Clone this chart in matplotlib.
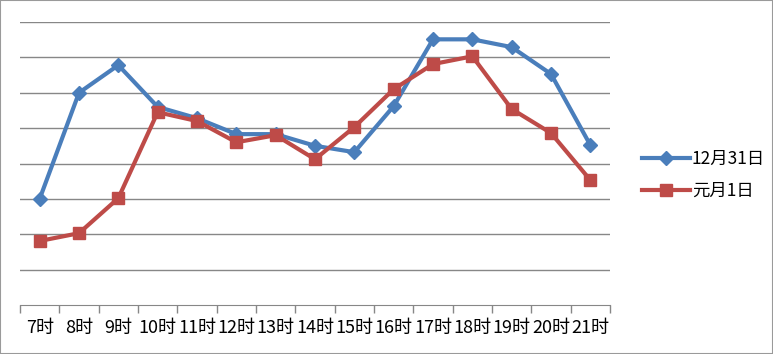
import matplotlib.pyplot as plt
from matplotlib.patches import Rectangle

plt.rcParams['font.family'] = ['Noto Sans CJK SC', 'DejaVu Sans']

hours = ['7时', '8时', '9时', '10时', '11时', '12时', '13时', '14时',
         '15时', '16时', '17时', '18时', '19时', '20时', '21时']
dec31 = [3.0, 6.0, 6.78, 5.6, 5.28, 4.83, 4.83, 4.5, 4.32, 5.62, 7.51, 7.51, 7.29, 6.53, 4.52]
jan1 = [1.81, 2.03, 3.02, 5.45, 5.2, 4.6, 4.8, 4.12, 5.03, 6.1, 6.81, 7.03, 5.54, 4.86, 3.53]

fig = plt.figure(figsize=(7.73, 3.54), dpi=100)
ax = fig.add_axes([20 / 773, 1 - 305 / 354, 590 / 773, 283 / 354])

x = list(range(len(hours)))
ax.plot(x, dec31, color='#4A7EBB', lw=3, marker='D', ms=7, label='12月31日', zorder=3)
ax.plot(x, jan1, color='#BE4B48', lw=3, marker='s', ms=9, label='元月1日', zorder=4)

ax.set_xlim(-0.5, len(hours) - 0.5)
ax.set_ylim(0, 8)
ax.set_yticks(range(1, 9))
ax.set_yticklabels([])
ax.tick_params(axis='y', length=0)
ax.grid(axis='y', color='#878787', lw=1)
ax.set_axisbelow(True)

ax.set_xticks([i - 0.5 for i in range(len(hours) + 1)], minor=False)
ax.set_xticklabels([])
ax.set_xticks(x, minor=True)
ax.set_xticklabels(hours, minor=True, fontsize=13)
ax.tick_params(axis='x', which='major', length=6, color='#878787', width=1)
ax.tick_params(axis='x', which='minor', length=0, pad=10)

for s in ['top', 'right', 'left']:
    ax.spines[s].set_visible(False)
ax.spines['bottom'].set_color('#878787')

fig.legend(loc='center left', bbox_to_anchor=(626 / 773, 1 - 175 / 354), frameon=False,
           fontsize=12.5, handlelength=2.8, labelspacing=0.8, handletextpad=0.1)

fig.patches.append(Rectangle((0, 0), 1, 1, transform=fig.transFigure, fill=False,
                             edgecolor='#9a9a9a', lw=1.5))

fig.savefig('out.png', dpi=100)
